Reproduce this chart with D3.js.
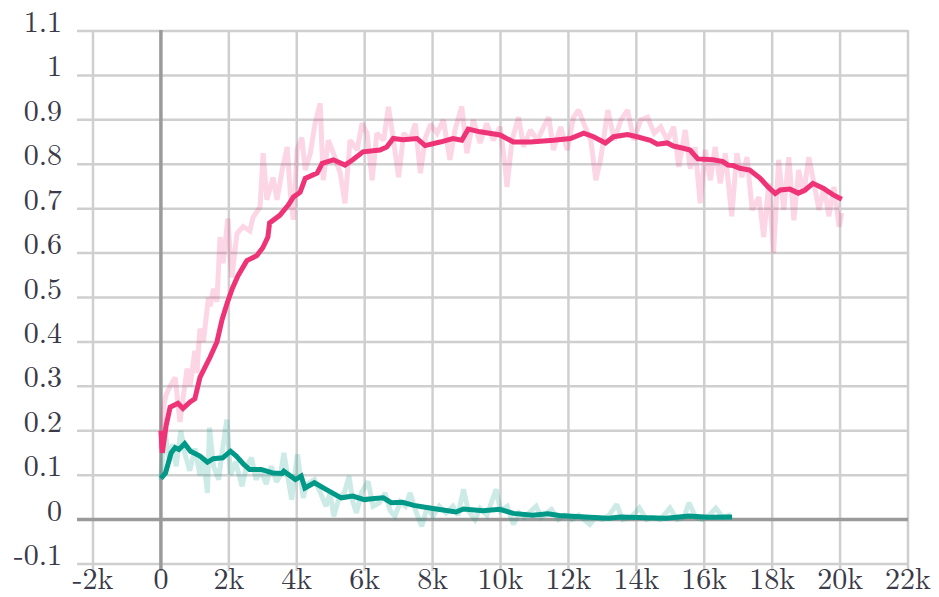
<!DOCTYPE html>
<html>
<head>
<meta charset="utf-8">
<script src="https://cdn.jsdelivr.net/npm/d3@7"></script>
<style>
  html, body { margin: 0; padding: 0; background: #fff; }
  svg { display: block; }
</style>
</head>
<body>
<svg id="chart" width="939" height="597"></svg>
<script>
// ---------------- data ----------------
const xTicks = [-2000, 0, 2000, 4000, 6000, 8000, 10000, 12000, 14000, 16000, 18000, 20000, 22000];
const xTickLabels = ["-2k", "0", "2k", "4k", "6k", "8k", "10k", "12k", "14k", "16k", "18k", "20k", "22k"];
const yTicks = [-0.1, 0, 0.1, 0.2, 0.3, 0.4, 0.5, 0.6, 0.7, 0.8, 0.9, 1.0, 1.1];
const yTickLabels = ["-0.1", "0", "0.1", "0.2", "0.3", "0.4", "0.5", "0.6", "0.7", "0.8", "0.9", "1", "1.1"];

// pink (smoothed)
const pinkSteps = [0, 40, 150, 270, 500, 650, 860, 1000, 1150, 1450, 1650, 1800, 1950, 2100, 2270, 2530, 2820, 3000, 3150, 3200, 3500, 3750, 3900, 4100, 4250, 4600, 4750, 5080, 5420, 5650, 5950, 6450, 6650, 6840, 7130, 7540, 7780, 8220, 8600, 8860, 9050, 9400, 9990, 10380, 10880, 11560, 12060, 12450, 12740, 13090, 13330, 13740, 14020, 14410, 14620, 14910, 15090, 15380, 15580, 15810, 16260, 16550, 16700, 16850, 17050, 17340, 17640, 17880, 18090, 18240, 18520, 18770, 18970, 19200, 19500, 19800, 20050];
const pinkValues = [0.20, 0.15, 0.21, 0.253, 0.262, 0.25, 0.265, 0.272, 0.32, 0.366, 0.40, 0.45, 0.487, 0.52, 0.549, 0.583, 0.594, 0.612, 0.636, 0.668, 0.685, 0.708, 0.726, 0.737, 0.768, 0.78, 0.802, 0.81, 0.798, 0.81, 0.828, 0.832, 0.839, 0.858, 0.855, 0.858, 0.842, 0.85, 0.858, 0.854, 0.879, 0.873, 0.866, 0.85, 0.85, 0.854, 0.858, 0.87, 0.862, 0.848, 0.862, 0.867, 0.862, 0.854, 0.845, 0.848, 0.841, 0.836, 0.832, 0.812, 0.81, 0.806, 0.798, 0.797, 0.791, 0.787, 0.769, 0.749, 0.734, 0.742, 0.744, 0.735, 0.742, 0.757, 0.746, 0.731, 0.721];

// pink (raw)
const pinkRawSteps = [0, 70, 150, 270, 420, 560, 770, 860, 1000, 1060, 1150, 1250, 1400, 1450, 1550, 1650, 1740, 1830, 1970, 2090, 2240, 2420, 2620, 2710, 2920, 3010, 3120, 3300, 3420, 3570, 3720, 3810, 3900, 4010, 4150, 4250, 4400, 4540, 4690, 4780, 4930, 5080, 5280, 5420, 5570, 5780, 5920, 6070, 6220, 6360, 6560, 6700, 6850, 7000, 7150, 7340, 7490, 7640, 7790, 7940, 8130, 8320, 8510, 8660, 8860, 9010, 9200, 9400, 9590, 9790, 9990, 10140, 10190, 10340, 10530, 10680, 10880, 11090, 11270, 11420, 11560, 11770, 11970, 12150, 12300, 12450, 12660, 12810, 12960, 13160, 13350, 13550, 13740, 13930, 14130, 14330, 14530, 14720, 14910, 15100, 15250, 15440, 15590, 15730, 15880, 16030, 16180, 16320, 16470, 16620, 16810, 16960, 17110, 17260, 17410, 17610, 17750, 17900, 18040, 18190, 18340, 18490, 18640, 18780, 18930, 19080, 19230, 19380, 19530, 19670, 19820, 19970, 20050];
const pinkRawValues = [0.16, 0.25, 0.28, 0.30, 0.32, 0.22, 0.34, 0.30, 0.38, 0.33, 0.43, 0.40, 0.50, 0.48, 0.52, 0.49, 0.636, 0.577, 0.678, 0.545, 0.644, 0.66, 0.65, 0.68, 0.704, 0.825, 0.72, 0.77, 0.72, 0.787, 0.839, 0.735, 0.675, 0.832, 0.86, 0.787, 0.825, 0.892, 0.937, 0.764, 0.854, 0.825, 0.78, 0.712, 0.854, 0.832, 0.892, 0.87, 0.764, 0.87, 0.854, 0.929, 0.854, 0.771, 0.87, 0.854, 0.892, 0.78, 0.86, 0.89, 0.87, 0.9, 0.81, 0.877, 0.93, 0.825, 0.9, 0.848, 0.892, 0.854, 0.884, 0.794, 0.749, 0.854, 0.906, 0.839, 0.877, 0.854, 0.884, 0.906, 0.832, 0.884, 0.832, 0.906, 0.922, 0.892, 0.854, 0.764, 0.816, 0.922, 0.854, 0.9, 0.922, 0.854, 0.9, 0.906, 0.87, 0.884, 0.854, 0.884, 0.794, 0.877, 0.79, 0.839, 0.712, 0.832, 0.764, 0.839, 0.757, 0.825, 0.683, 0.825, 0.771, 0.816, 0.697, 0.726, 0.636, 0.757, 0.60, 0.81, 0.697, 0.816, 0.674, 0.787, 0.735, 0.816, 0.757, 0.697, 0.749, 0.683, 0.749, 0.659, 0.69];

// teal (smoothed)
const tealSteps = [0, 135, 300, 420, 530, 700, 870, 1150, 1370, 1540, 1820, 2050, 2220, 2440, 2610, 2950, 3290, 3570, 3620, 3960, 4130, 4240, 4520, 4860, 5310, 5650, 5990, 6210, 6550, 6780, 7110, 7450, 8010, 8690, 8910, 9480, 9980, 10380, 10940, 11390, 11730, 12630, 13190, 13530, 14320, 14880, 15550, 16120, 16820];
const tealValues = [0.093, 0.105, 0.15, 0.162, 0.158, 0.171, 0.154, 0.143, 0.129, 0.137, 0.139, 0.154, 0.143, 0.124, 0.113, 0.113, 0.105, 0.104, 0.109, 0.09, 0.098, 0.071, 0.083, 0.068, 0.049, 0.053, 0.045, 0.047, 0.049, 0.038, 0.039, 0.032, 0.025, 0.017, 0.024, 0.02, 0.023, 0.014, 0.01, 0.013, 0.009, 0.005, 0.003, 0.006, 0.004, 0.003, 0.008, 0.005, 0.006];

// teal (raw)
const tealRawSteps = [0, 60, 135, 250, 350, 450, 585, 700, 850, 1000, 1150, 1250, 1370, 1430, 1550, 1700, 1800, 1940, 2050, 2200, 2390, 2520, 2670, 2800, 2950, 3100, 3250, 3400, 3520, 3620, 3750, 3850, 4020, 4190, 4300, 4520, 4700, 4860, 4980, 5090, 5250, 5400, 5540, 5650, 5760, 5900, 6100, 6250, 6440, 6600, 6750, 6890, 7050, 7200, 7340, 7500, 7680, 7850, 8010, 8200, 8400, 8600, 8750, 8910, 9050, 9250, 9400, 9600, 9870, 10000, 10200, 10380, 10550, 10700, 11050, 11200, 11500, 11700, 11900, 12100, 12300, 12630, 12800, 13000, 13200, 13420, 13600, 13850, 14090, 14300, 14500, 14700, 14990, 15200, 15400, 15550, 15750, 15950, 16150, 16340, 16550, 16790];
const tealRawValues = [0.09, 0.15, 0.19, 0.13, 0.17, 0.12, 0.20, 0.15, 0.11, 0.16, 0.10, 0.14, 0.06, 0.207, 0.12, 0.09, 0.15, 0.225, 0.10, 0.13, 0.075, 0.12, 0.139, 0.09, 0.11, 0.08, 0.12, 0.085, 0.10, 0.15, 0.09, 0.045, 0.147, 0.049, 0.08, 0.09, 0.06, 0.03, 0.06, 0.0075, 0.05, 0.06, 0.098, 0.04, 0.015, 0.06, 0.086, 0.03, 0.038, 0.06, 0.02, 0.0075, 0.04, 0.03, 0.06, 0.02, -0.015, 0.03, 0.0075, 0.03, 0.015, 0.03, 0.01, 0.068, 0.02, 0.0, 0.025, 0.01, 0.068, 0.02, 0.03, -0.011, 0.015, 0.005, 0.03, 0.005, 0.023, 0.0, 0.01, 0.0, 0.01, -0.011, 0.005, 0.0, 0.01, 0.034, 0.0, 0.005, 0.026, 0.0, 0.005, 0.0, 0.026, 0.0, 0.005, 0.038, 0.005, 0.0, 0.01, 0.026, 0.005, 0.011];

const pinkColor = "#ee3377";
const tealColor = "#009988";

// ---------------- drawing ----------------
const svg = d3.select("#chart");
const x = d3.scaleLinear().domain([-2000, 22000]).range([93, 908]);
const y = d3.scaleLinear().domain([-0.1, 1.1]).range([564, 31]);

const gridLeft = 77, gridBottom = 571;
const FONT = "'Latin Modern Roman', 'Liberation Serif', serif";

// horizontal grid
svg.append("g").selectAll("line").data(yTicks).join("line")
  .attr("x1", gridLeft).attr("x2", x(22000))
  .attr("y1", d => y(d)).attr("y2", d => y(d))
  .attr("stroke", d => Math.abs(d) < 1e-9 ? "none" : "#cfcfcf")
  .attr("stroke-width", 2.5);

// vertical grid
svg.append("g").selectAll("line").data(xTicks).join("line")
  .attr("x1", d => x(d)).attr("x2", d => x(d))
  .attr("y1", y(1.1) - 1).attr("y2", gridBottom)
  .attr("stroke", d => d === 0 ? "none" : "#cfcfcf")
  .attr("stroke-width", 2.5);

// zero axes
svg.append("line")
  .attr("x1", gridLeft).attr("x2", x(22000))
  .attr("y1", y(0)).attr("y2", y(0))
  .attr("stroke", "#9a9a9a").attr("stroke-width", 3.5);
svg.append("line")
  .attr("x1", x(0)).attr("x2", x(0))
  .attr("y1", y(1.1) - 1).attr("y2", gridBottom)
  .attr("stroke", "#9a9a9a").attr("stroke-width", 3.5);

// tick labels
svg.append("g").selectAll("text").data(yTicks).join("text")
  .attr("x", 62).attr("y", d => y(d) + 1)
  .attr("text-anchor", "end")
  .attr("font-family", FONT)
  .attr("font-size", 30)
  .attr("fill", "#3a3a48")
  .text((d, i) => yTickLabels[i]);

svg.append("g").selectAll("text").data(xTicks).join("text")
  .attr("x", d => x(d)).attr("y", 589)
  .attr("text-anchor", "middle")
  .attr("font-family", FONT)
  .attr("font-size", 30)
  .attr("fill", "#3a3a48")
  .text((d, i) => xTickLabels[i]);

const line = d3.line().x(d => x(d[0])).y(d => y(d[1]));
const zip = (a, b) => a.map((s, i) => [s, b[i]]);

function drawSeries(steps, vals, color, width, opacity) {
  svg.append("path")
    .datum(zip(steps, vals))
    .attr("d", line)
    .attr("fill", "none")
    .attr("stroke", color)
    .attr("stroke-width", width)
    .attr("stroke-opacity", opacity)
    .attr("stroke-linejoin", "miter")
    .attr("stroke-miterlimit", 2)
    .attr("stroke-linecap", "butt");
}

drawSeries(pinkRawSteps, pinkRawValues, pinkColor, 5, 0.2);
drawSeries(tealRawSteps, tealRawValues, tealColor, 5, 0.2);
drawSeries(pinkSteps, pinkValues, pinkColor, 5, 1);
drawSeries(tealSteps, tealValues, tealColor, 5, 1);
</script>
</body>
</html>
